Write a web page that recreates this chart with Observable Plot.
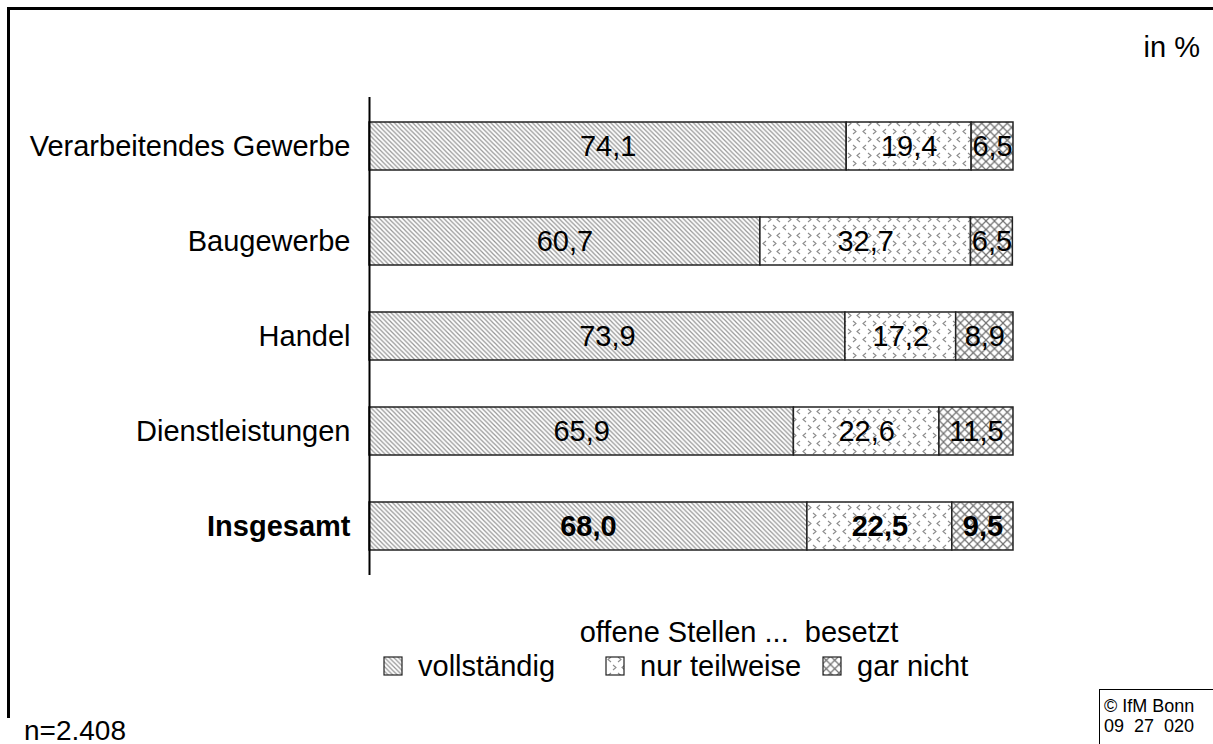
<!DOCTYPE html>
<html>
<head>
<meta charset="utf-8">
<script src="https://cdn.jsdelivr.net/npm/d3@7"></script>
<script src="https://cdn.jsdelivr.net/npm/@observablehq/plot@0.6"></script>
<style>
  html, body { margin: 0; padding: 0; background: #fff; }
  body { width: 1213px; height: 744px; position: relative; overflow: hidden;
         font-family: "Liberation Sans", Arial, sans-serif; color: #000; }
  .abs { position: absolute; line-height: 1; white-space: pre; }
  .vc { transform: translateY(-50%); }
  #chart { position: absolute; left: 0; top: 0; }
  .sw { position: absolute; width: 20px; height: 20px; }
</style>
</head>
<body>
<svg width="0" height="0" style="position:absolute">
  <defs>
    <pattern id="pVoll" patternUnits="userSpaceOnUse" width="4.6" height="4.6">
      <rect width="4.6" height="4.6" fill="#fff"/>
      <path d="M-1,-1 L5.6,5.6 M-1,3.6 L1,5.6 M3.6,-1 L5.6,1" stroke="#959595" stroke-width="1.2"/>
    </pattern>
    <pattern id="pTeil" patternUnits="userSpaceOnUse" width="20" height="16">
      <rect width="20" height="16" fill="#fff"/>
      <path d="M6,1 L3,3.5 L6,6 M13,1 L16,3.5 L13,6 M8,9 L11,11.5 L8,14 M20,9 L17,11.5 L20,14 M0,9 L-3,11.5 L0,14" fill="none" stroke="#8c8c8c" stroke-width="1.1"/>
    </pattern>
    <pattern id="pGar" patternUnits="userSpaceOnUse" width="8.5" height="8.5">
      <rect width="8.5" height="8.5" fill="#fff"/>
      <path d="M0,0 L8.5,8.5 M8.5,0 L0,8.5" stroke="#707070" stroke-width="1.2"/>
    </pattern>
  </defs>
</svg>

<div id="chart"></div>

<!-- frame -->
<div style="position:absolute;left:7px;top:7px;width:1206px;height:3px;background:#000"></div>
<div style="position:absolute;left:7px;top:7px;width:3px;height:711px;background:#000"></div>

<div class="abs vc" style="right:13px;top:47px;font-size:29px">in %</div>
<div class="abs vc" style="left:739px;top:632px;font-size:29px;transform:translate(-50%,-50%)">offene Stellen ...  besetzt</div>
<div id="legend"></div>
<div class="abs vc" style="left:24px;top:731px;font-size:28px">n=2.408</div>
<div style="position:absolute;left:1099px;top:689px;width:120px;height:60px;border-left:1.5px solid #000;border-top:1.5px solid #000"></div>
<div class="abs vc" style="left:1104px;top:706px;font-size:18px">© IfM Bonn</div>
<div class="abs vc" style="left:1104px;top:726px;font-size:18px">09  27  020</div>

<script>
const categories = ["Verarbeitendes Gewerbe", "Baugewerbe", "Handel", "Dienstleistungen", "Insgesamt"];
const statuses = ["vollständig", "nur teilweise", "gar nicht"];
const vollstaendig = [74.1, 60.7, 73.9, 65.9, 68.0];
const nurTeilweise = [19.4, 32.7, 17.2, 22.6, 22.5];
const garNicht = [6.5, 6.5, 8.9, 11.5, 9.5];
const patterns = ["url(#pVoll)", "url(#pTeil)", "url(#pGar)"];

const series = [vollstaendig, nurTeilweise, garNicht];
const rows = [];
categories.forEach((cat, i) => {
  statuses.forEach((status, j) => rows.push({cat, status, value: series[j][i]}));
});
const fmt = v => v.toFixed(1).replace(".", ",");
const isTotal = d => d.cat === "Insgesamt";
const FS = 29;

const chart = Plot.plot({
  width: 1213,
  height: 744,
  marginLeft: 369,
  marginRight: 200,
  marginTop: 97,
  marginBottom: 169,
  style: {fontFamily: "'Liberation Sans', Arial, sans-serif", background: "transparent", color: "#000"},
  x: {domain: [0, 100], axis: null},
  y: {domain: categories, axis: null, paddingInner: 0.5, paddingOuter: 0.25},
  color: {type: "ordinal", domain: statuses, range: patterns},
  marks: [
    Plot.barX(rows, Plot.stackX({x: "value", y: "cat", fill: "status", stroke: "#222", strokeWidth: 1.5})),
    Plot.ruleX([0], {stroke: "#000", strokeWidth: 2}),
    Plot.text(categories.filter(c => c !== "Insgesamt"), {x: () => 0, y: d => d, text: d => d, textAnchor: "end", dx: -19, fontSize: FS, fill: "#000"}),
    Plot.text(["Insgesamt"], {x: () => 0, y: d => d, text: d => d, textAnchor: "end", dx: -19, fontSize: FS, fontWeight: "bold", fill: "#000"}),
    Plot.text(rows, Plot.stackX({x: "value", y: "cat", text: d => fmt(d.value), filter: d => !isTotal(d), fontSize: FS, fill: "#000"})),
    Plot.text(rows, Plot.stackX({x: "value", y: "cat", text: d => fmt(d.value), filter: isTotal, fontSize: FS, fontWeight: "bold", fill: "#000"}))
  ]
});
document.getElementById("chart").appendChild(chart);

// legend
const legendPos = [{sw: 383, tx: 418}, {sw: 605, tx: 640}, {sw: 822, tx: 857}];
const legend = document.getElementById("legend");
statuses.forEach((s, i) => {
  const sw = document.createElementNS("http://www.w3.org/2000/svg", "svg");
  sw.setAttribute("class", "sw");
  sw.setAttribute("width", 20);
  sw.setAttribute("height", 20);
  sw.style.left = legendPos[i].sw + "px";
  sw.style.top = "656px";
  sw.innerHTML = `<rect x="1" y="1" width="18" height="18" fill="${patterns[i]}" stroke="#222" stroke-width="1.2"/>`;
  legend.appendChild(sw);
  const t = document.createElement("div");
  t.className = "abs vc";
  t.style.left = legendPos[i].tx + "px";
  t.style.top = "666px";
  t.style.fontSize = FS + "px";
  t.textContent = s;
  legend.appendChild(t);
});
</script>
</body>
</html>
